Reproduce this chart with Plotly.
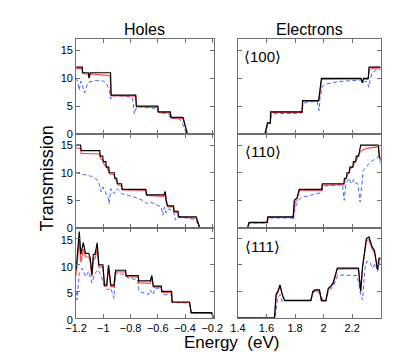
import plotly.graph_objects as go
from plotly.subplots import make_subplots

# ---- Holes <100> ----
h100_x_black = [-1.2, -1.155, -1.153, -1.11, -1.105, -1.097, -0.947, -0.943, -0.762, -0.758,
                -0.6, -0.596, -0.508, -0.504, -0.415, -0.383, -0.19]
h100_y_black = [12, 12, 11, 11, 10.1, 11, 11, 7, 7, 5, 5, 4, 4, 3, 3, 0, 0]
h100_x_red = [-1.2, -1.155, -1.15, -1.11, -1.105, -1.095, -0.95, -0.943, -0.762, -0.756,
              -0.6, -0.594, -0.508, -0.502, -0.415, -0.38, -0.19]
h100_y_red = [11.8, 11.7, 10.9, 10.7, 10.0, 10.8, 10.5, 6.9, 6.8, 4.9, 4.8, 3.9, 3.8, 2.9, 2.8, 0, 0]
h100_x_blue = [-1.2, -1.185, -1.177, -1.165, -1.155, -1.145, -1.137, -1.12, -1.107, -1.08, -1.049,
               -1.0, -0.98, -0.958, -0.952, -0.945, -0.935, -0.9, -0.83, -0.785, -0.772, -0.755,
               -0.7, -0.61, -0.6, -0.586, -0.52, -0.512, -0.494, -0.44, -0.42, -0.39, -0.19]
h100_y_blue = [10.1, 9.0, 7.9, 9.5, 8.8, 7.8, 7.4, 8.8, 9.3, 9.5, 9.6, 9.5, 9.2, 8.0, 6.8, 6.3, 6.8,
               6.9, 6.8, 6.5, 3.6, 4.9, 4.8, 4.6, 4.0, 3.8, 3.7, 3.0, 2.8, 2.7, 2.0, 0, 0]

# ---- Electrons <100> ----
e100_x_black = [1.4, 1.589, 1.607, 1.627, 1.629, 1.849, 1.853, 1.965, 1.985, 2.262, 2.272, 2.28,
                2.314, 2.318, 2.4]
e100_y_black = [0, 0, 2, 2, 4, 4, 6, 6, 10, 10, 9.2, 10, 10, 12, 12]
e100_x_red = [1.4, 1.59, 1.61, 1.627, 1.631, 1.85, 1.855, 1.967, 1.987, 2.26, 2.27, 2.28, 2.31,
              2.32, 2.35, 2.4]
e100_y_red = [0, 0, 2, 1.9, 3.9, 3.9, 5.9, 5.9, 9.8, 9.9, 9.4, 9.8, 9.8, 11.6, 11.8, 11.9]
e100_x_blue = [1.4, 1.592, 1.61, 1.628, 1.635, 1.7, 1.8, 1.848, 1.856, 1.9, 1.955, 1.962, 1.969,
               1.975, 1.99, 2.02, 2.1, 2.2, 2.265, 2.275, 2.3, 2.31, 2.318, 2.325, 2.34, 2.37, 2.4]
e100_y_blue = [0, 0, 1.8, 1.9, 3.6, 3.7, 3.7, 3.8, 5.5, 5.8, 5.8, 4.8, 4.2, 6.5, 8.5, 9.0, 9.4, 9.6,
               9.7, 9.2, 9.5, 9.0, 8.4, 9.6, 11, 11.5, 11.6]

# ---- Holes <110> ----
h110_x_black = [-1.2, -1.167, -1.163, -1.027, -1.023, -1.005, -1.001, -0.982, -0.978, -0.96, -0.956,
                -0.92, -0.916, -0.902, -0.898, -0.866, -0.862, -0.688, -0.684, -0.555, -0.545,
                -0.54, -0.53, -0.485, -0.481, -0.452, -0.448, -0.318, -0.293, -0.19]
h110_y_black = [15, 15, 14, 14, 13, 13, 12, 12, 11, 11, 10, 10, 9, 9, 8, 8, 7, 7, 6, 6, 6.6, 5, 4,
                4, 3, 3, 2, 2, 0, 0]
h110_x_red = [-1.2, -1.167, -1.163, -1.027, -1.02, -1.0, -0.995, -0.975, -0.965, -0.955, -0.92,
              -0.912, -0.898, -0.893, -0.866, -0.86, -0.688, -0.68, -0.555, -0.545, -0.535, -0.525,
              -0.485, -0.478, -0.452, -0.445, -0.318, -0.29, -0.19]
h110_y_red = [14.5, 14.4, 13.5, 13.4, 12.5, 12.2, 11.5, 11, 10.5, 9.8, 9.6, 8.8, 8.5, 7.8, 7.6, 6.9,
              6.8, 5.9, 5.7, 6.2, 4.8, 3.8, 3.8, 2.9, 2.8, 1.9, 1.8, 0, 0]
h110_x_blue = [-1.2, -1.15, -1.096, -1.038, -1.015, -1.003, -0.98, -0.965, -0.957, -0.945, -0.922,
               -0.899, -0.864, -0.772, -0.702, -0.679, -0.656, -0.575, -0.563, -0.552, -0.54,
               -0.517, -0.483, -0.471, -0.448, -0.32, -0.297, -0.19]
h110_y_blue = [10.0, 9.7, 9.4, 8.6, 6.5, 7.4, 6.2, 5.5, 4.4, 7.1, 6.2, 7.1, 6.2, 5.6, 4.9, 4.4, 4.7,
               3.8, 2.3, 3.8, 2.7, 3.5, 2.9, 1.4, 2.1, 1.5, 0, 0]

# ---- Electrons <110> ----
e110_x_black = [1.4, 1.467, 1.478, 1.605, 1.609, 1.787, 1.795, 1.815, 1.829, 1.987, 1.991, 2.142,
                2.146, 2.16, 2.164, 2.18, 2.184, 2.205, 2.209, 2.225, 2.229, 2.245, 2.26, 2.384,
                2.39, 2.4]
e110_y_black = [0, 0, 1, 1, 2, 2, 5, 5.5, 7, 7, 8, 8, 9, 9, 10, 10, 11, 11, 12, 12, 13, 13, 15, 15,
                13, 12.5]
e110_x_red = [1.4, 1.47, 1.48, 1.606, 1.612, 1.787, 1.8, 1.815, 1.832, 1.987, 1.993, 2.142, 2.15,
              2.164, 2.184, 2.209, 2.229, 2.25, 2.265, 2.3, 2.35, 2.384, 2.39, 2.4]
e110_y_red = [0, 0, 0.9, 0.9, 1.9, 1.9, 4.5, 5.3, 6.8, 6.8, 7.8, 7.8, 8.6, 9.5, 10.5, 11.4, 12.2,
              13.5, 14.0, 14.4, 14.6, 14.7, 12.8, 12.3]
e110_x_blue = [1.4, 1.468, 1.48, 1.6, 1.612, 1.78, 1.789, 1.8, 1.811, 1.83, 1.856, 1.944, 1.985,
               1.995, 2.011, 2.133, 2.144, 2.156, 2.178, 2.19, 2.2, 2.21, 2.222, 2.24, 2.256, 2.278,
               2.322, 2.367, 2.389, 2.4]
e110_y_blue = [0, 0, 0.9, 0.9, 1.8, 1.8, 1.4, 3.5, 4.4, 5.2, 5.6, 6.2, 6.4, 7.4, 7.6, 7.9, 5.0, 7.9,
               9.0, 8.3, 8.0, 8.8, 8.2, 8.0, 4.7, 10.4, 11.8, 12.6, 13.0, 11.6]

# ---- Holes <111> ----
h111_x_black = [-1.2, -1.177, -1.165, -1.147, -1.131, -1.107, -1.096, -1.084, -1.073, -1.061, -1.045,
                -1.033, -1.003, -0.992, -0.975, -0.962, -0.945, -0.922, -0.91, -0.837, -0.833,
                -0.744, -0.74, -0.656, -0.644, -0.633, -0.575, -0.571, -0.499, -0.495, -0.367,
                -0.355, -0.205, -0.19]
h111_y_black = [9.1, 16.3, 12.0, 14.2, 12.2, 12.2, 11.3, 8.1, 12.0, 12.0, 14.2, 10.0, 10.0, 6.2, 6.2,
                10.0, 6.2, 6.2, 9.0, 9.0, 8.0, 8.0, 7.0, 7.0, 8.0, 6.0, 6.0, 5.0, 5.0, 3.0, 3.0,
                1.0, 1.0, 0]
h111_x_red = h111_x_black
h111_y_red = [8.0, 14.5, 10.5, 13.0, 11.5, 11.5, 10.5, 7.8, 11.2, 11.2, 13.0, 9.6, 9.6, 6.0, 6.0,
              9.5, 5.9, 5.9, 8.7, 8.7, 7.8, 7.7, 6.6, 6.5, 7.5, 5.8, 5.8, 4.8, 4.8, 2.9, 2.9, 0.9,
              0.9, 0]
h111_x_blue = [-1.2, -1.193, -1.177, -1.154, -1.131, -1.107, -1.084, -1.061, -1.038, -1.015, -0.992,
               -0.968, -0.945, -0.922, -0.91, -0.841, -0.818, -0.749, -0.737, -0.702, -0.668,
               -0.656, -0.633, -0.621, -0.575, -0.563, -0.499, -0.494, -0.367, -0.355, -0.205,
               -0.19]
h111_y_blue = [5.0, 3.4, 8.4, 9.4, 7.8, 8.8, 6.6, 8.4, 9.1, 7.8, 6.0, 5.3, 5.6, 3.7, 8.4, 8.2, 7.5,
               7.2, 5.0, 4.7, 4.4, 5.3, 4.4, 5.6, 5.6, 4.4, 4.3, 2.9, 2.8, 0.9, 0.9, 0]

# ---- Electrons <111> ----
e111_x_black = [1.4, 1.656, 1.667, 1.68, 1.695, 1.711, 1.727, 1.911, 1.925, 1.94, 1.971, 1.985, 2.0,
                2.016, 2.033, 2.05, 2.067, 2.078, 2.096, 2.244, 2.26, 2.273, 2.3, 2.318, 2.34,
                2.356, 2.378, 2.389, 2.4]
e111_y_black = [0, 0, 4.4, 5.0, 6.25, 4.4, 3.3, 3.3, 5.0, 5.3, 5.3, 3.3, 3.25, 3.25, 5.6, 6.0, 6.6,
                7.5, 9.4, 9.4, 5.0, 9.7, 15.0, 15.3, 13.4, 12.8, 9.1, 11.3, 11.3]
e111_x_red = [1.4, 1.658, 1.668, 1.68, 1.695, 1.711, 1.727, 1.911, 1.925, 1.94, 1.971, 1.985, 2.016,
              2.033, 2.05, 2.067, 2.078, 2.096, 2.244, 2.26, 2.273, 2.3, 2.318, 2.34, 2.356, 2.378,
              2.389, 2.4]
e111_y_red = [0, 0, 4.2, 4.8, 6.0, 4.3, 3.2, 3.2, 4.8, 5.1, 5.1, 3.2, 3.2, 5.4, 5.8, 6.4, 7.3, 9.2,
              9.3, 5.2, 9.5, 14.6, 14.8, 13.0, 12.3, 9.3, 11.0, 11.0]
e111_x_blue = [1.4, 1.658, 1.667, 1.678, 1.695, 1.711, 1.727, 1.911, 1.922, 1.94, 1.971, 2.0, 2.016,
               2.033, 2.067, 2.089, 2.1, 2.233, 2.244, 2.26, 2.273, 2.289, 2.3, 2.322, 2.344, 2.362,
               2.378, 2.389, 2.4]
e111_y_blue = [0, 0, 1.3, 3.8, 4.4, 3.1, 3.3, 3.3, 4.7, 5.0, 4.8, 3.1, 3.2, 5.0, 5.9, 7.5, 8.1, 8.0,
               6.9, 4.4, 3.4, 9.1, 10.6, 10.6, 9.4, 10.3, 8.75, 10.4, 10.4]

panels = [
    (1, 1, h100_x_blue, h100_y_blue, h100_x_black, h100_y_black, h100_x_red, h100_y_red),
    (1, 2, e100_x_blue, e100_y_blue, e100_x_black, e100_y_black, e100_x_red, e100_y_red),
    (2, 1, h110_x_blue, h110_y_blue, h110_x_black, h110_y_black, h110_x_red, h110_y_red),
    (2, 2, e110_x_blue, e110_y_blue, e110_x_black, e110_y_black, e110_x_red, e110_y_red),
    (3, 1, h111_x_blue, h111_y_blue, h111_x_black, h111_y_black, h111_x_red, h111_y_red),
    (3, 2, e111_x_blue, e111_y_blue, e111_x_black, e111_y_black, e111_x_red, e111_y_red),
]
directions = ["⟨100⟩", "⟨110⟩", "⟨111⟩"]

W, H = 415, 355
fig = make_subplots(rows=3, cols=2)

for r, c, xb, yb, xk, yk, xr, yr in panels:
    fig.add_trace(go.Scatter(x=xb, y=yb, mode="lines",
                             line=dict(color="#4466ff", width=1, dash="4px,2.5px")), row=r, col=c)
    fig.add_trace(go.Scatter(x=xr, y=yr, mode="lines",
                             line=dict(color="rgba(255,0,0,0.7)", width=1.2)), row=r, col=c)
    fig.add_trace(go.Scatter(x=xk, y=yk, mode="lines",
                             line=dict(color="black", width=1.2)), row=r, col=c)

# panel boxes in pixels
col_px = [(60, 204.5), (230, 380)]
row_px = [(32, 129), (129, 225), (225, 317)]

axis_style = dict(showline=True, linecolor="#707070", linewidth=1, mirror="allticks",
                  ticks="inside", ticklen=4, tickcolor="#707070", showgrid=False,
                  zeroline=False, tickfont=dict(size=11, color="black"))

for r in range(3):
    for c in range(2):
        x0, x1 = col_px[c]
        y0, y1 = row_px[r]
        if c == 0:
            xr_ = [-1.2, -0.19]
            tv = [-1.2, -1.0, -0.8, -0.6, -0.4, -0.2]
            tt = ["−1.2", "−1", "−0.8", "−0.6", "−0.4", "−0.2"]
        else:
            xr_ = [1.4, 2.4]
            tv = [1.4, 1.6, 1.8, 2.0, 2.2, 2.4]
            tt = ["1.4", "1.6", "1.8", "2", "2.2", ""]
        fig.update_xaxes(row=r + 1, col=c + 1, range=xr_, tickvals=tv, ticktext=tt,
                         showticklabels=(r == 2),
                         domain=[x0 / W, x1 / W], **axis_style)
        fig.update_yaxes(row=r + 1, col=c + 1, range=[0, 17], tickvals=[0, 5, 10, 15],
                         showticklabels=(c == 0), ticklabelshift=(2 if r == 2 else 0),
                         domain=[1 - y1 / H, 1 - y0 / H], **axis_style)

font_family = "Liberation Sans, Arial, sans-serif"
ann = [
    dict(text="Holes", x=132 / W, y=1 - 22 / H, font=dict(size=16)),
    dict(text="Electrons", x=305 / W, y=1 - 22 / H, font=dict(size=16)),
    dict(text="Transmission", x=30 / W, y=1 - 175 / H, textangle=-90, font=dict(size=18)),
    dict(text="Energy  (eV)", x=223 / W, y=1 - 342 / H, font=dict(size=17)),
]
for i, d in enumerate(directions):
    ann.append(dict(text=d, x=256 / W, y=1 - (50 + i * 97) / H, font=dict(size=15)))
for a in ann:
    fig.add_annotation(xref="paper", yref="paper", showarrow=False,
                       xanchor="center", yanchor="middle", **a)

fig.update_layout(width=W, height=H, margin=dict(l=0, r=0, t=0, b=0),
                  paper_bgcolor="white", plot_bgcolor="white", showlegend=False,
                  font=dict(family=font_family, color="black"))

fig.write_html("out.html")
